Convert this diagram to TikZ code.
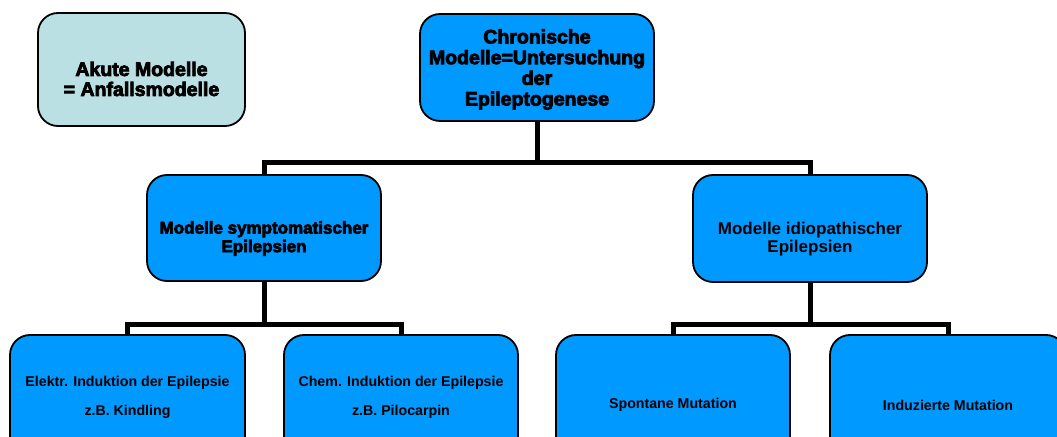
\documentclass[tikz,border=0pt]{standalone}
\usepackage{fontspec}
\setmainfont{Liberation Sans}
\newfontfamily\heavyfont{Liberation Sans Bold}[FakeBold=4]
\newfontfamily\boldfont{Liberation Sans Bold}
\definecolor{boxblue}{HTML}{0099FF}
\definecolor{boxcyan}{HTML}{BBE0E3}
\tikzset{
  box/.style={draw=black, line width=1.8bp, rounded corners=20bp, fill=boxblue,
    align=center, inner sep=0pt, text=black},
  txt/.style={align=center, inner sep=0pt, text=black},
  conn/.style={draw=black, line width=5bp},
}
\begin{document}
\begin{tikzpicture}[x=1bp,y=-1bp]
\useasboundingbox (0,0) rectangle (1057,437);
\clip (0,0) rectangle (1057,437);
% top row
\node[box, fill=boxcyan, minimum width=207bp, minimum height=113bp] (akut) at (141.5,69.5) {};
\node[txt, font=\heavyfont\fontsize{19.5bp}{20bp}\selectfont] (akutT)
  at ([yshift=-9.5bp]akut.center) {Akute Modelle\\= Anfallsmodelle};
\node[box, minimum width=234bp, minimum height=107bp] (chron) at (537,67.5) {};
\node[txt, font=\heavyfont\fontsize{19.5bp}{20.7bp}\selectfont] (chronT)
  at ([yshift=-2bp]chron.center)
  {Chronische\\Modelle=Untersuchung\\der\\Epileptogenese};
% middle row
\node[box, minimum width=234bp, minimum height=106bp] (sym) at (264,228) {};
\node[txt, font=\heavyfont\fontsize{17bp}{18.5bp}\selectfont] (symT)
  at ([yshift=-10.5bp]sym.center) {Modelle symptomatischer\\Epilepsien};
\node[box, minimum width=234bp, minimum height=107bp] (idio) at (810,228.5) {};
\node[txt, font=\boldfont\fontsize{17bp}{18.5bp}\selectfont] (idioT)
  at ([yshift=-10.5bp]idio.center) {Modelle idiopathischer\\Epilepsien};
% bottom row
\node[box, minimum width=235bp, minimum height=124bp,
  font=\boldfont\fontsize{14.2bp}{29bp}\selectfont] (elek) at (127.5,397)
  {Elektr. Induktion der Epilepsie\\z.B. Kindling};
\node[box, minimum width=234bp, minimum height=124bp,
  font=\boldfont\fontsize{14.2bp}{29bp}\selectfont] (chem) at (401,397)
  {Chem. Induktion der Epilepsie\\z.B. Pilocarpin};
\node[box, minimum width=234bp, minimum height=140bp,
  font=\boldfont\fontsize{14.2bp}{14bp}\selectfont] (spont) at (673,405)
  {Spontane Mutation};
\node[box, minimum width=236bp, minimum height=140bp,
  font=\boldfont\fontsize{14.2bp}{14bp}\selectfont] (indu) at (948,405)
  {Induzierte Mutation};
% connectors
\coordinate (bar1) at (537,163);
\coordinate (bar2) at (264,325);
\coordinate (bar3) at (810,325);
\draw[conn] (chron.south) -- (bar1);
\draw[conn] (bar1) -| (sym.north);
\draw[conn] (bar1) -| (idio.north);
\draw[conn] (sym.south) -- (bar2);
\draw[conn] (bar2) -| (elek.north);
\draw[conn] (bar2) -| (chem.north);
\draw[conn] (idio.south) -- (bar3);
\draw[conn] (bar3) -| (spont.north);
\draw[conn] (bar3) -| (indu.north);
\end{tikzpicture}
\end{document}
